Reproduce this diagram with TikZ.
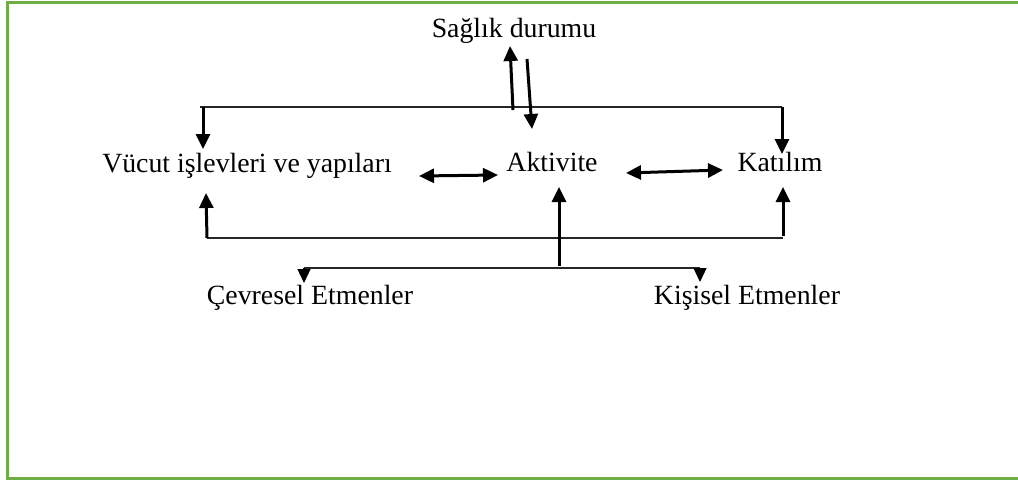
\documentclass[tikz,border=0pt]{standalone}
\usepackage{fontspec}
\setmainfont{Liberation Serif}
\usetikzlibrary{arrows.meta}
\definecolor{framegreen}{HTML}{70AD47}
\begin{document}
\begin{tikzpicture}[x=1pt,y=-1pt,
  lbl/.style={anchor=base,inner sep=0pt,font=\fontsize{27.8}{33}\selectfont},
  thin/.style={line width=1.2pt,black!85},
  heavy/.style={line width=3pt,-{Triangle[length=15pt,width=14pt]}},
  heavyboth/.style={line width=3pt,{Triangle[length=15pt,width=14pt]}-{Triangle[length=15pt,width=14pt]}},
  drop/.style={line width=1.2pt,-{Triangle[length=14pt,width=13pt]}}]
\useasboundingbox (0,0) rectangle (1018,482);
% frame, open on the right
\draw[framegreen,line width=3.5pt] (1030,2.5) -- (7.5,2.5) -- (7.5,478.5) -- (1030,478.5);

% labels
\node[lbl] (saglik) at (514,37) {Sağlık durumu};
\node[lbl] (vucut) at (247,172) {Vücut işlevleri ve yapıları};
\node[lbl] (akt) at (552,171) {Aktivite};
\node[lbl] (kat) at (780,171) {Katılım};
\node[lbl] (cevre) at (310,304) {Çevresel Etmenler};
\node[lbl] (kisi) at (747,304) {Kişisel Etmenler};

% upper bracket
\coordinate (uL) at (200,107);
\coordinate (uR) at (782,107);
\coordinate (uLt) at (203,149);
\coordinate (uRt) at (782,154);
\draw[thin] (uL) -- (uR);
\draw[heavy] (203,107) -- (uLt);
\draw[heavy] (uR) -- (uRt);

% health condition arrows
\coordinate (hUb) at (513,110);
\coordinate (hUt) at (510,46);
\coordinate (hDb) at (527,59);
\coordinate (hDt) at (532,129);
\draw[heavy] (hUb) -- (hUt);
\draw[heavy] (hDb) -- (hDt);

% horizontal double arrows
\coordinate (d1a) at (419,176);
\coordinate (d1b) at (498,175);
\coordinate (d2a) at (626,173);
\coordinate (d2b) at (723,170);
\draw[heavyboth] (d1a) -- (d1b);
\draw[heavyboth] (d2a) -- (d2b);

% lower bracket
\coordinate (lL) at (207,238);
\coordinate (lR) at (783,238);
\coordinate (lLt) at (206,193);
\coordinate (lRt) at (783,187);
\draw[thin] (lL) -- (lR);
\draw[heavy] (lL) -- (lLt);
\draw[heavy] (783,236) -- (lRt);

% contextual factors
\coordinate (aB) at (559,266);
\coordinate (aT) at (559,187);
\draw[heavy] (aB) -- (aT);
\coordinate (fL) at (304,268);
\coordinate (fR) at (700,268);
\draw[thin] (fL) -- (fR);
\draw[drop] (fL) -- (304,283);
\draw[drop] (fR) -- (700,282);
\end{tikzpicture}
\end{document}
